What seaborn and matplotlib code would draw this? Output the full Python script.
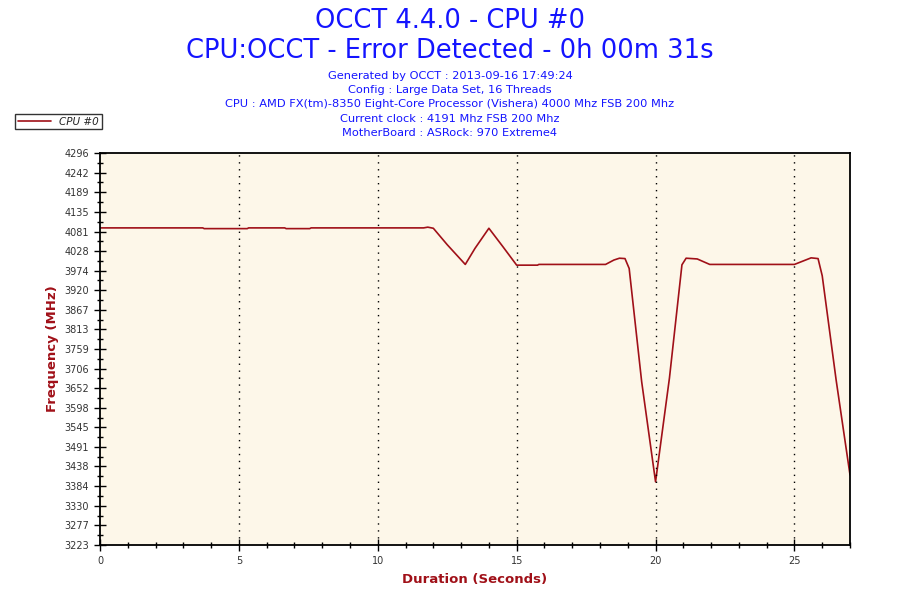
import numpy as np
import pandas as pd
import matplotlib
matplotlib.use("Agg")
import matplotlib.pyplot as plt
import seaborn as sns
from matplotlib.ticker import MultipleLocator, FixedLocator

# CPU #0 frequency samples
seconds = [0.0, 3.7, 3.75, 5.3, 5.35, 6.65, 6.7, 7.55, 7.6, 11.65, 11.8, 12.0,
           12.5, 13.15, 13.5, 14.0, 14.5, 15.0, 15.75, 15.8, 18.2, 18.5, 18.7,
           18.9, 19.05, 19.5, 20.0, 20.5, 20.95, 21.1, 21.5, 21.95, 25.0, 25.3,
           25.6, 25.85, 26.0, 26.5, 27.0]
freq_mhz = [4091, 4091, 4089, 4089, 4091, 4091, 4089, 4089, 4091, 4091, 4093, 4090,
            4045, 3991, 4035, 4090, 4040, 3989, 3989, 3991, 3991, 4003, 4008,
            4007, 3980, 3670, 3396, 3680, 3990, 4008, 4006, 3991, 3991, 4000,
            4009, 4007, 3960, 3675, 3415]

y_ticks = [4296, 4242, 4189, 4135, 4081, 4028, 3974, 3920, 3867, 3813, 3759,
           3706, 3652, 3598, 3545, 3491, 3438, 3384, 3330, 3277, 3223]

title_lines = ["OCCT 4.4.0 - CPU #0", "CPU:OCCT - Error Detected - 0h 00m 31s"]
info_lines = [
    "Generated by OCCT : 2013-09-16 17:49:24",
    "Config : Large Data Set, 16 Threads",
    "CPU : AMD FX(tm)-8350 Eight-Core Processor (Vishera) 4000 Mhz FSB 200 Mhz",
    "Current clock : 4191 Mhz FSB 200 Mhz",
    "MotherBoard : ASRock: 970 Extreme4",
]

df = pd.DataFrame({"Duration": seconds, "Frequency": freq_mhz})

sns.set_style("ticks")
plt.rcParams["font.family"] = ["DejaVu Sans"]

fig = plt.figure(figsize=(9, 6), dpi=100)
ax = fig.add_axes([100 / 900, 55 / 600, 750 / 900, 392 / 600])
ax.set_facecolor("#fdf7e9")

line_color = "#a01018"
label_color = "#a01018"
blue = "#1414ff"

sns.lineplot(data=df, x="Duration", y="Frequency", ax=ax, color=line_color,
             linewidth=1.2, label="CPU #0", legend=False)

ax.set_xlim(0, 27)
ax.set_ylim(3223, 4296)
ax.xaxis.set_major_locator(MultipleLocator(5))
ax.xaxis.set_minor_locator(MultipleLocator(1))
ax.yaxis.set_major_locator(FixedLocator(y_ticks))
step = (4296 - 3223) / 20
ax.yaxis.set_minor_locator(FixedLocator([3223 + step * (i + 0.5) for i in range(20)]))
ax.set_yticklabels([str(v) for v in y_ticks])

ax.tick_params(axis="both", which="major", direction="inout", length=8.6, width=1,
               labelsize=7, labelcolor="#333333", color="black")
ax.tick_params(axis="both", which="minor", direction="inout", length=4.3, width=1,
               color="black")

for s in ax.spines.values():
    s.set_color("black")
    s.set_linewidth(1.3)

for xv in [5, 10, 15, 20, 25]:
    ax.axvline(xv, color="black", linestyle=(0, (1, 4)), linewidth=1)

ax.set_xlabel("Duration (Seconds)", color=label_color, fontsize=9.5,
              fontweight="bold", labelpad=5)
ax.set_ylabel("Frequency (MHz)", color=label_color, fontsize=9.5,
              fontweight="bold", labelpad=4)

for i, txt in enumerate(title_lines):
    fig.text(0.5, 1 - (21 + 30 * i) / 600, txt, ha="center", va="center",
             color=blue, fontsize=18.5)
for i, txt in enumerate(info_lines):
    fig.text(0.5, 1 - (76 + 14.2 * i) / 600, txt, ha="center", va="center",
             color=blue, fontsize=8.2)

leg = fig.legend(handles=ax.get_lines()[:1], labels=["CPU #0"],
                 loc="upper left", bbox_to_anchor=(15 / 900, 1 - 114 / 600),
                 frameon=True, fancybox=False, fontsize=7.5, handlelength=3.2,
                 borderpad=0.25, borderaxespad=0)
leg.get_frame().set_edgecolor("black")
leg.get_frame().set_linewidth(1)
for t in leg.get_texts():
    t.set_fontstyle("italic")

fig.savefig("out.png", dpi=100, facecolor="white")
